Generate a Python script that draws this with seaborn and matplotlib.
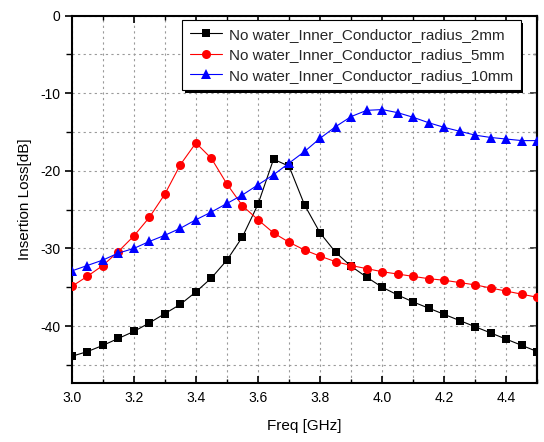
import numpy as np
import pandas as pd
import matplotlib
matplotlib.use("Agg")
import matplotlib.pyplot as plt
import seaborn as sns
from matplotlib.ticker import MultipleLocator

freq = [3.00, 3.05, 3.10, 3.15, 3.20, 3.25, 3.30, 3.35, 3.40, 3.45, 3.50,
        3.55, 3.60, 3.65, 3.70, 3.75, 3.80, 3.85, 3.90, 3.95, 4.00, 4.05,
        4.10, 4.15, 4.20, 4.25, 4.30, 4.35, 4.40, 4.45, 4.50]

r2mm = [-43.9, -43.3, -42.5, -41.6, -40.7, -39.6, -38.4, -37.2, -35.6, -33.8, -31.5,
        -28.5, -24.3, -18.5, -19.4, -24.4, -28.0, -30.5, -32.3, -33.7, -35.0, -36.0,
        -36.9, -37.7, -38.5, -39.3, -40.1, -40.9, -41.7, -42.5, -43.3]

r5mm = [-34.9, -33.6, -32.2, -30.4, -28.4, -26.0, -23.0, -19.2, -16.4, -18.4, -21.7,
        -24.5, -26.3, -28.0, -29.2, -30.2, -31.0, -31.7, -32.2, -32.6, -33.0, -33.3,
        -33.6, -33.9, -34.1, -34.4, -34.7, -35.1, -35.5, -35.9, -36.3]

r10mm = [-32.9, -32.2, -31.5, -30.6, -30.0, -29.1, -28.3, -27.4, -26.3, -25.3, -24.2,
         -23.1, -21.8, -20.5, -19.0, -17.5, -15.8, -14.3, -13.0, -12.2, -12.1, -12.5,
         -13.1, -13.8, -14.4, -14.9, -15.4, -15.7, -15.9, -16.1, -16.1]

labels = ["No water_Inner_Conductor_radius_2mm",
          "No water_Inner_Conductor_radius_5mm",
          "No water_Inner_Conductor_radius_10mm"]
colors = ["#000000", "#FF0000", "#0000FF"]
markers = ["s", "o", "^"]
msizes = [5.5, 6.5, 7.5]

df = pd.DataFrame({
    "freq": freq * 3,
    "loss": r2mm + r5mm + r10mm,
    "series": [labels[0]] * len(freq) + [labels[1]] * len(freq) + [labels[2]] * len(freq),
})

sns.set_theme(style="white")
plt.rcParams["font.family"] = ["Liberation Sans", "DejaVu Sans"]
plt.rcParams["axes.unicode_minus"] = False

fig = plt.figure(figsize=(5.44, 4.42), dpi=100)
ax = fig.add_axes([0.1318, 0.1342, 0.8562, 0.8303])

for lab, c, m, ms in zip(labels, colors, markers, msizes):
    sub = df[df["series"] == lab]
    sns.lineplot(data=sub, x="freq", y="loss", ax=ax, color=c, marker=m,
                 markersize=ms, markeredgewidth=0, linewidth=0.8,
                 label=lab, zorder=3)

ax.set_xlim(3.0, 4.5)
ax.set_ylim(-47.3, 0)
ax.xaxis.set_major_locator(MultipleLocator(0.2))
ax.xaxis.set_minor_locator(MultipleLocator(0.1))
ax.yaxis.set_major_locator(MultipleLocator(10))
ax.yaxis.set_minor_locator(MultipleLocator(5))
ax.xaxis.set_major_formatter(matplotlib.ticker.FormatStrFormatter("%.1f"))

ax.grid(True, which="both", color="#9a9a9a", linestyle=(0, (2, 3)), linewidth=0.8, zorder=0)

for s in ax.spines.values():
    s.set_linewidth(1.5)
    s.set_color("black")

ax.tick_params(axis="x", which="both", direction="in", top=True, bottom=True,
               labelsize=10, colors="black", pad=6)
ax.tick_params(axis="x", which="major", length=5, width=1.2)
ax.tick_params(axis="x", which="minor", length=3, width=1.0)
ax.tick_params(axis="y", which="both", direction="out", left=True, right=False,
               labelsize=10, colors="black", pad=3)
ax.tick_params(axis="y", which="major", length=5, width=1.2)
ax.tick_params(axis="y", which="minor", length=4, width=1.0)

sec = ax.secondary_yaxis("right")
sec.yaxis.set_major_locator(MultipleLocator(10))
sec.yaxis.set_minor_locator(MultipleLocator(5))
sec.tick_params(which="both", direction="in", labelright=False)
sec.tick_params(which="major", length=5, width=1.2)
sec.tick_params(which="minor", length=3, width=1.0)
sec.spines["right"].set_linewidth(1.5)

ax.set_xlabel("Freq [GHz]", fontsize=11, color="black", labelpad=10)
ax.set_ylabel("Insertion Loss[dB]", fontsize=11, color="black", labelpad=6)

leg = ax.legend(loc="upper right", bbox_to_anchor=(0.964, 0.988), borderaxespad=0,
                fontsize=11, frameon=True, fancybox=False, framealpha=1,
                edgecolor="black", handlelength=2.1, handletextpad=0.45,
                labelspacing=0.42, borderpad=0.5,
                shadow={"color": "black", "alpha": 1, "linewidth": 0})
leg.get_frame().set_linewidth(0.8)

fig.savefig("out.png", dpi=100)
